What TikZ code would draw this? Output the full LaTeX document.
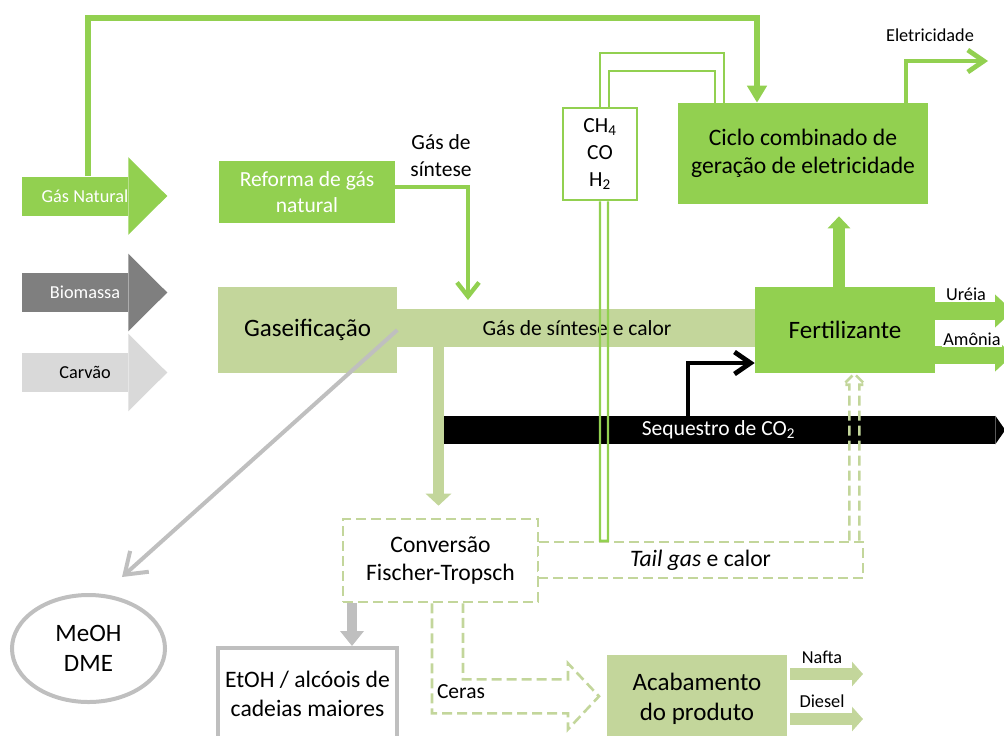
\documentclass[tikz,border=0pt]{standalone}
\usepackage{fontspec}
\setmainfont{Carlito}
\usepackage{tikz}
\usetikzlibrary{arrows.meta,positioning,shapes.geometric}
\definecolor{gsgreen}{HTML}{92D050}
\definecolor{gspale}{HTML}{C3D69B}
\definecolor{gsdark}{HTML}{7F7F7F}
\definecolor{gslight}{HTML}{D9D9D9}
\definecolor{gsgrey}{HTML}{BFBFBF}
\newcommand{\fhuge}{\fontsize{17.8}{21}\selectfont}
\newcommand{\fbig}{\fontsize{16.8}{20.3}\selectfont}
\newcommand{\fmid}{\fontsize{15.3}{19}\selectfont}
\newcommand{\fsmall}{\fontsize{13}{15.6}\selectfont}
\newcommand{\feedhead}[2]{%
  \fill[#2] ([yshift=4.75mm]#1.north east) -- ([xshift=9.75mm]#1.east)
    -- ([yshift=-4.75mm]#1.south east) -- cycle;}

\begin{document}
\begin{tikzpicture}[x=0.25mm,y=-0.25mm,
  proc/.style={fill=gsgreen,align=center,font=\fbig,inner sep=0pt},
  pale/.style={fill=gspale,align=center,font=\fbig,inner sep=0pt},
  dashbox/.style={draw=gspale,line width=0.65mm,dash pattern=on 2.5mm off 1.25mm,
    fill=white,align=center,font=\fbig,inner sep=0pt},
  greybox/.style={draw=gsgrey,line width=1mm,align=center,font=\fbig,inner sep=0pt},
  feed/.style={minimum width=26.5mm,minimum height=9.75mm,inner sep=0pt},
  lbl/.style={font=\fsmall,inner sep=1pt},
  gline/.style={gsgreen,line width=1.4mm,-{Triangle[width=4.75mm,length=4.25mm]}},
  synarr/.style={gsgreen,line width=1.1mm,-{Straight Barb[length=3.5mm,width=5.5mm]}},
  elecarr/.style={gsgreen,line width=1.2mm,-{Straight Barb[length=4mm,width=5.5mm]}},
  thinfeed/.style={gsgreen,line width=0.55mm},
  fatup/.style={gsgreen,line width=3mm,-{Triangle[width=5.5mm,length=3mm]},shorten >=3mm},
  fertarr/.style={gsgreen,line width=4.5mm,-{Triangle[width=8mm,length=4.5mm]}},
  stemarr/.style={gspale,line width=2.75mm,-{Triangle[width=6.25mm,length=3mm]},shorten >=3mm},
  prodarr/.style={gspale,line width=3mm,-{Triangle[width=6mm,length=2.75mm]},shorten <=0.75mm},
  dashline/.style={gspale,line width=0.65mm,dash pattern=on 2.5mm off 1.25mm},
  co2arr/.style={black,line width=1.2mm,-{Straight Barb[length=4mm,width=5.5mm]}},
  greyline/.style={gsgrey,line width=1mm,-{Straight Barb[length=5mm,width=7mm]}},
  greyfat/.style={gsgrey,line width=2.5mm,-{Triangle[width=5.75mm,length=3.75mm]}}]
  \useasboundingbox (0,0) rectangle (1004,735);

  % feed stocks
  \node[feed,fill=gsgreen,label={[text=white,font=\fsmall,xshift=2.5mm]center:Gás Natural}] (gasnat) at (75,196) {};
  \feedhead{gasnat}{gsgreen}
  \node[feed,fill=gsdark,label={[text=white,font=\fsmall,xshift=2.5mm]center:Biomassa}] (biom) at (75,292.5) {};
  \feedhead{biom}{gsdark}
  \node[feed,fill=gslight,label={[font=\fsmall,xshift=2.5mm]center:Carvão}] (carvao) at (75,372.5) {};
  \feedhead{carvao}{gslight}

  % process blocks
  \node[proc,text=white,font=\fmid,minimum width=44mm,minimum height=15.5mm] (reforma) at (307,192) {Reforma de gás\\natural};
  \node[pale,font=\fhuge,minimum width=44.75mm,minimum height=21.5mm] (gasif) at (307.5,330) {Gaseificação};
  \node[pale,font=\fmid,minimum width=90mm,minimum height=9.5mm] (band) at (577,328) {Gás de síntese e calor};
  \node[proc,minimum width=62.5mm,minimum height=25.25mm] (ciclo) at (803,153.5) {Ciclo combinado de\\geração de eletricidade};
  \node[proc,font=\fhuge,minimum width=45mm,minimum height=21.5mm] (fert) at (845,330) {Fertilizante};
  \node[draw=gsgreen,line width=0.65mm,fill=white,minimum width=18.5mm,minimum height=23mm,
    align=center,font=\fmid,inner sep=0pt] (gases) at (600,154) {CH\textsubscript{4}\\CO\\H\textsubscript{2}};
  \node[fill=black,text=white,font=\fmid,minimum width=138.25mm,minimum height=7mm,inner sep=0pt] (seq) at (718.5,430) {Sequestro de CO\textsubscript{2}};
  \fill (seq.north east) -- ([xshift=2.5mm]seq.east) -- (seq.south east) -- cycle;
  \node[dashbox,minimum width=48.75mm,minimum height=20.75mm] (conv) at (440.5,560.5) {Conversão\\Fischer-Tropsch};
  \node[dashbox,minimum width=81.25mm,minimum height=9mm] (tail) at (700.5,560) {\textit{Tail gas} e calor};
  \node[pale,font=\fhuge,minimum width=45mm,minimum height=22mm] (acab) at (697,699) {Acabamento\\do produto};
  \node[greybox,fill=white,minimum width=44.75mm,minimum height=23mm] (etoh) at (307.5,694) {EtOH / alcóois de\\cadeias maiores};
  \node[greybox,font=\fhuge,ellipse,minimum width=38.25mm,minimum height=26.75mm] (meoh) at (88.5,648.5) {MeOH\\DME};

  % turning points
  \coordinate (tl) at (88,18);
  \coordinate (tr) at (757,18);
  \coordinate (syn) at (468,300);
  \coordinate (o1) at (724,53);
  \coordinate (i1) at (715,71);
  \coordinate (elec) at (988,61);
  \coordinate (upx) at (839,250);
  \coordinate (stemx) at (438.5,450);
  \coordinate (co2) at (688,363);
  \coordinate (grx) at (352,620);
  \coordinate (meohtip) at (122,577);
  \coordinate (ureia) at (1013,311);
  \coordinate (amonia) at (1013,355);
  \coordinate (nafta) at (863,674);
  \coordinate (diesel) at (863,719);

  % connectors
  \draw[gline] (gasnat.north -| tl) -- (tl) -- (tr) -- (ciclo.north -| tr);
  \draw[synarr] ([yshift=1.25mm]reforma.east) -| (syn);
  \node[font=\fmid,align=center,inner sep=0pt] (synlbl) at (441,155.5) {Gás de\\síntese};
  \draw[thinfeed] (gases.north) |- (o1) -- (ciclo.north -| o1);
  \draw[thinfeed] ([xshift=2.25mm]gases.north) |- (i1) -- (ciclo.north -| i1);
  \draw[thinfeed] (gases.south) -- (gases.south |- tail.north) -- ++(8,0) -- ([xshift=2mm]gases.south);
  \draw[elecarr] ([xshift=25.75mm]ciclo.north) |- (elec);
  \node[lbl] (eleclbl) at (930,35) {Eletricidade};
  \draw[fatup] (fert.north -| upx) -- (ciclo.south -| upx);
  \draw[stemarr] (band.south -| stemx) -- (conv.north -| stemx);
  \draw[co2arr] (seq.north -| co2) |- (fert.west |- co2);
  \draw[dashline] ([xshift=-3.75mm]tail.north east) -- ++(0,-156) -- ++(-6,0) -- ++(11,-11)
    -- ++(11,11) -- ++(-6,0) -- ++(0,156);
  \draw[fertarr] (fert.east |- ureia) -- (ureia);
  \draw[fertarr] (fert.east |- amonia) -- (amonia);
  \node[lbl] (ureialbl) at (966,294) {Uréia};
  \node[lbl,fill=white] (amonialbl) at (972,339) {Amônia};
  \draw[greyline] (gasif.east) -- (meohtip);
  \draw[greyfat] (conv.south -| grx) -- (etoh.north -| grx);
  \draw[dashline] ([xshift=-2.125mm]conv.south) -- ++(0,110) -- ++(136,0) -- ++(0,16) -- ++(31,-33)
    -- ++(-31,-33) -- ++(0,16) -- ++(-105,0) -- ++(0,-76);
  \node[font=\fmid,inner sep=0pt] (ceras) at (461,692) {Ceras};
  \draw[prodarr] (acab.east |- nafta) -- (nafta);
  \draw[prodarr] (acab.east |- diesel) -- (diesel);
  \node[lbl] (naftalbl) at (822,657) {Nafta};
  \node[lbl] (diesellbl) at (822,701) {Diesel};
\end{tikzpicture}
\end{document}
